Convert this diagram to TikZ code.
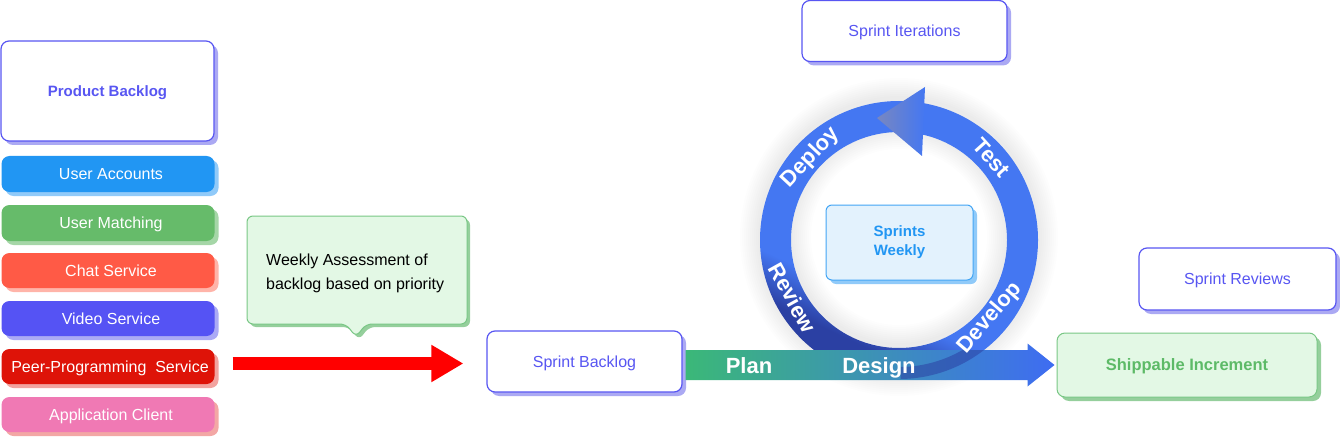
\documentclass[tikz,border=0pt]{standalone}
\usepackage{fontspec}
\setmainfont{Liberation Sans}
\usetikzlibrary{shadows,arrows.meta,calc}
\definecolor{pur}{HTML}{5856F2}
\definecolor{purS}{HTML}{ABA9F3}
\definecolor{uaF}{HTML}{2196F3}\definecolor{uaS}{HTML}{90CAF9}
\definecolor{umF}{HTML}{66BB6A}\definecolor{umS}{HTML}{A5D6A7}
\definecolor{csF}{HTML}{FF5A46}\definecolor{csS}{HTML}{FFB4A9}
\definecolor{vsF}{HTML}{5553F4}\definecolor{vsS}{HTML}{ABAAF5}
\definecolor{ppF}{HTML}{DE1308}\definecolor{ppS}{HTML}{F2A39F}
\definecolor{acF}{HTML}{F079B4}\definecolor{acS}{HTML}{F3A7A5}
\definecolor{grF}{HTML}{E3F8E5}\definecolor{grB}{HTML}{79C785}
\definecolor{grS}{HTML}{95CF9C}\definecolor{grT}{HTML}{5DBA67}
\definecolor{swF}{HTML}{E3F2FD}\definecolor{swB}{HTML}{42A5F5}
\definecolor{swS}{HTML}{90CAF9}\definecolor{swT}{HTML}{2196F3}
\definecolor{ringC}{HTML}{4477F2}\definecolor{ringD}{HTML}{2B40A3}
\definecolor{arrG}{HTML}{7887C0}
\definecolor{barG}{HTML}{3BB878}\definecolor{barB}{HTML}{3E6CF2}
\definecolor{arrR}{HTML}{FF0000}
\pgfdeclareverticalshading{ringsh}{100bp}{color(0bp)=(ringD); color(30bp)=(ringD); color(38bp)=(ringC); color(100bp)=(ringC)}
\tikzset{
  wbox/.style={draw=pur, line width=1.2pt, fill=white, rounded corners=8pt, text=pur,
    inner sep=0pt, text depth=0pt, drop shadow={shadow xshift=4pt, shadow yshift=-4pt, fill=purS, opacity=1}},
  cbox/.style 2 args={fill=#1, rounded corners=8pt, text=white, inner sep=0pt, text depth=0pt,
    minimum width=213pt, minimum height=35pt, font=\fontsize{16}{19}\selectfont,
    drop shadow={shadow xshift=4pt, shadow yshift=-4pt, fill=#2, opacity=1}},
  ringlbl/.style={text=white, font=\bfseries\fontsize{22}{26}\selectfont, inner sep=0pt},
  barlbl/.style={text=white, font=\bfseries\fontsize{22}{26}\selectfont, inner sep=0pt, text depth=0pt},
}
\begin{document}
\begin{tikzpicture}[x=1pt,y=1pt]
\useasboundingbox (0,0) rectangle (1340,437);

% left column
\node[wbox, minimum width=213pt, minimum height=100pt, font=\bfseries\fontsize{15}{18}\selectfont] (pb) at (107.5,346) {Product Backlog};
\node[cbox={uaF}{uaS}, minimum height=36pt] (ua) at (108,263) {\hspace*{6pt}User Accounts};
\node[cbox={umF}{umS}, minimum height=36pt] (um) at (108,214) {\hspace*{6pt}User Matching};
\node[cbox={csF}{csS}] (cs) at (108,166.5) {\hspace*{6pt}Chat Service};
\node[cbox={vsF}{vsS}] (vs) at (108,118.5) {\hspace*{6pt}Video Service};
\node[cbox={ppF}{ppS}] (pp) at (108,70.5) {\hspace*{4pt}Peer-Programming~ Service};
\node[cbox={acF}{acS}] (ac) at (108,22.5) {\hspace*{6pt}Application Client};

% callout
\fill[grS, rounded corners=6pt] (250,218) -- (470,218) -- (470,110) -- (369,110) -- (359,97) -- (349,110) -- (250,110) -- cycle;
\filldraw[fill=grF, draw=grB, line width=1pt, rounded corners=6pt] (247,221) -- (467,221) -- (467,113) -- (366,113) -- (356,100) -- (346,113) -- (247,113) -- cycle;
\node[anchor=west, align=left, inner sep=0pt, font=\fontsize{16}{24}\selectfont] (ct) at (266,164) {Weekly Assessment of\\backlog based on priority};

% sprint backlog and red arrow
\node[wbox, minimum width=195pt, minimum height=61pt, font=\fontsize{16}{19}\selectfont] (sb) at (584.5,75.5) {Sprint Backlog};
\draw[arrR, line width=13pt, -{Triangle[length=32pt,width=35pt]}] ($(pp.east)+(18,3)$) -- ($(sb.west)+(-23,-2)$);

% right boxes
\node[wbox, minimum width=197pt, minimum height=62pt, font=\fontsize{16}{19}\selectfont] (sr) at (1237.5,158) {Sprint Reviews};
\node[draw=grB, fill=grF, line width=1pt, rounded corners=8pt, inner sep=0pt, text depth=0pt, minimum width=260pt, minimum height=64pt, text=grT, font=\bfseries\fontsize{16.5}{20}\selectfont, drop shadow={shadow xshift=4pt, shadow yshift=-4pt, fill=grS, opacity=1}] (shi) at (1187,72) {Shippable Increment};

% ring
\coordinate (rc) at (899,197);
\foreach \k in {1,...,10} \draw[black, opacity=0.006, line width={31+4*\k}] ($(rc)+(0,3)$) circle (123.5);
\shade[even odd rule, shading=ringsh, shading angle=-25] (rc) circle (139) (rc) circle (108);
\shade[left color=arrG, right color=ringC] (925,350) -- (922,281) -- (877,319) -- cycle;

% bar arrow
\coordinate (b0) at ($(sb.east)+(3,-3.5)$);
\coordinate (b1) at ($(shi.west)+(-2,0)$);
\shade[left color=barG, right color=barB] ($(b0)+(0,15)$) -- ($(b1)+(-27,15)$) -- ($(b1)+(-27,21.5)$) -- (b1) -- ($(b1)+(-27,-21.5)$) -- ($(b1)+(-27,-15)$) -- ($(b0)+(0,-15)$) -- cycle;
\begin{scope}
\clip ($(b0)+(215,15)$) rectangle ($(b0)+(330,-15)$);
\fill[ringD, opacity=0.55, even odd rule] (rc) circle (139) (rc) circle (127);
\end{scope}
\node[barlbl] (plan) at (749,71) {Plan};
\node[barlbl] (design) at (879,71) {Design};

% ring labels
\node[ringlbl, rotate=47] (dep) at ($(rc)+(137:121)$) {Deploy};
\node[ringlbl, rotate=-48] (tst) at ($(rc)+(41.7:124)$) {Test};
\node[ringlbl, rotate=-61] (rev) at ($(rc)+(208.5:121)$) {Review};
\node[ringlbl, rotate=49.4] (dev) at ($(rc)+(-40.6:120)$) {Develop};

% centre and top
\node[draw=swB, fill=swF, line width=1pt, rounded corners=6pt, inner sep=0pt, minimum width=147pt, minimum height=75pt, align=center, text=swT, font=\bfseries\fontsize{15}{19}\selectfont, drop shadow={shadow xshift=4pt, shadow yshift=-4pt, fill=swS, opacity=1}] (sw) at (899.5,194.5) {Sprints\\Weekly};
\node[wbox, minimum width=205pt, minimum height=61pt, font=\fontsize{16}{19}\selectfont] (si) at (904.5,406) {Sprint Iterations};
\end{tikzpicture}
\end{document}
